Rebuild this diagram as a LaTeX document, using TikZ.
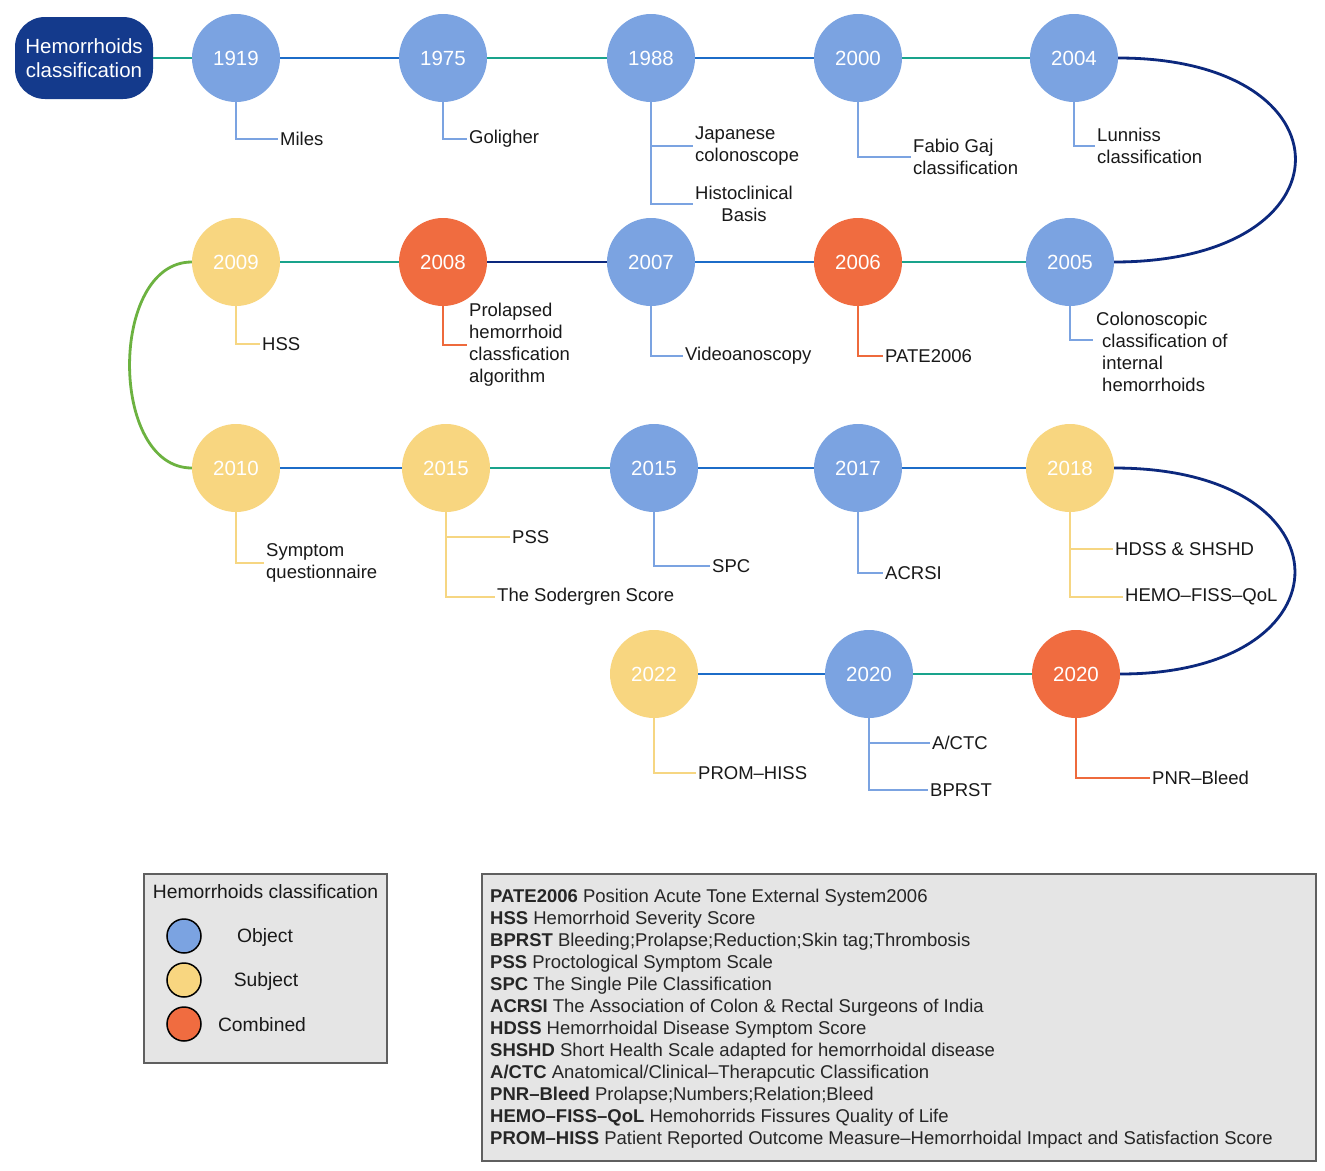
\documentclass[tikz,border=0pt]{standalone}
\usepackage{fontspec}
\setmainfont{Liberation Sans}
\definecolor{cblue}{RGB}{123,163,225}
\definecolor{cyellow}{RGB}{248,214,128}
\definecolor{corange}{RGB}{240,108,64}
\definecolor{cnavy}{RGB}{20,58,140}
\definecolor{lteal}{RGB}{25,163,140}
\definecolor{lblue}{RGB}{28,108,200}
\definecolor{lnavy}{RGB}{12,40,125}
\definecolor{lgreen}{RGB}{108,178,64}
\definecolor{lyellow}{RGB}{246,214,130}
\definecolor{lorange}{RGB}{238,106,60}
\definecolor{boxgray}{RGB}{229,229,229}
\definecolor{boxedge}{RGB}{95,95,95}
\begin{document}
\begin{tikzpicture}[x=1pt,y=-1pt,
  yr/.style={circle, minimum size=88pt, inner sep=0pt, text=white, font=\fontsize{20.5}{24}\selectfont},
  obj/.style={yr, fill=cblue},
  subj/.style={yr, fill=cyellow},
  comb/.style={yr, fill=corange},
  startbox/.style={rectangle, rounded corners=30pt, fill=cnavy, text=white, minimum width=138pt, minimum height=82pt, inner sep=0pt, align=center, font=\fontsize{20.5}{24}\selectfont},
  lab/.style={anchor=west, inner sep=2pt, yshift=-1pt, font=\fontsize{18.5}{22}\selectfont, text=black!90, align=left},
  conn/.style={line width=2.8pt},
  lead/.style={line width=1.6pt},
  infobox/.style={rectangle, fill=boxgray, draw=boxedge, line width=1.2pt, inner sep=0pt},
  legtxt/.style={inner sep=0pt, font=\fontsize{19.3}{22}\selectfont, text=black!90},
  legdot/.style={circle, minimum size=34pt, inner sep=0pt, draw=black, line width=1.5pt},
  abtxt/.style={anchor=west, inner sep=0pt, yshift=-1pt, font=\fontsize{18.5}{22}\selectfont, text=black!85}
]
\useasboundingbox[fill=white] (0,0) rectangle (1325,1170);

% ---- main nodes
\node[startbox] (start) at (84,58) {Hemorrhoids\\classification};
\node[obj] (a1) at (236,58) {1919};
\node[obj] (a2) at (443,58) {1975};
\node[obj] (a3) at (651,58) {1988};
\node[obj] (a4) at (858,58) {2000};
\node[obj] (a5) at (1074,58) {2004};
\node[subj] (b1) at (236,262) {2009};
\node[comb] (b2) at (443,262) {2008};
\node[obj] (b3) at (651,262) {2007};
\node[comb] (b4) at (858,262) {2006};
\node[obj] (b5) at (1070,262) {2005};
\node[subj] (c1) at (236,468) {2010};
\node[subj] (c2) at (446,468) {2015};
\node[obj] (c3) at (654,468) {2015};
\node[obj] (c4) at (858,468) {2017};
\node[subj] (c5) at (1070,468) {2018};
\node[subj] (d1) at (654,674) {2022};
\node[obj] (d2) at (869,674) {2020};
\node[comb] (d3) at (1076,674) {2020};

% ---- connectors
\draw[conn, lteal] (start) -- (a1);
\draw[conn, lblue] (a1) -- (a2);
\draw[conn, lteal] (a2) -- (a3);
\draw[conn, lblue] (a3) -- (a4);
\draw[conn, lteal] (a4) -- (a5);
\draw[conn, lnavy] (a5.east) .. controls +(237,0) and +(241,0) .. (b5.east);
\draw[conn, lteal] (b5) -- (b4);
\draw[conn, lblue] (b4) -- (b3);
\draw[conn, lnavy] (b3) -- (b2);
\draw[conn, lteal] (b2) -- (b1);
\draw[conn, lgreen] (b1.west) .. controls +(-83,0) and +(-83,0) .. (c1.west);
\draw[conn, lblue] (c1) -- (c2);
\draw[conn, lteal] (c2) -- (c3);
\draw[conn, lblue] (c3) -- (c4);
\draw[conn, lblue] (c4) -- (c5);
\draw[conn, lnavy] (c5.east) .. controls +(240,0) and +(234,0) .. (d3.east);
\draw[conn, lteal] (d3) -- (d2);
\draw[conn, lblue] (d2) -- (d1);

% ---- labels
\node[lab] (lMiles) at (278,138) {Miles};
\node[lab] (lGol) at (467,138) {Goligher};
\node[lab] (lJap) at (693,145) {Japanese\\colonoscope};
\node[lab, align=center] (lHis) at (693,203) {Histoclinical\\Basis};
\node[lab] (lFab) at (911,156) {Fabio Gaj\\classification};
\node[lab] (lLun) at (1095,145) {Lunniss\\classification};
\node[lab] (lHSS) at (260,343) {HSS};
\node[lab] (lPro) at (467,344) {Prolapsed\\hemorrhoid\\classfication\\algorithm};
\node[lab] (lVid) at (683,355) {Videoanoscopy};
\node[lab] (lPate) at (883,355) {PATE2006};
\node[lab] (lCol) at (1094,351) {Colonoscopic\\\hspace*{6pt}classification of\\\hspace*{6pt}internal\\\hspace*{6pt}hemorrhoids};
\coordinate (cCol) at (1093,340);
\node[lab] (lSym) at (264,562) {Symptom\\questionnaire};
\node[lab] (lPSS) at (510,536) {PSS};
\node[lab] (lSod) at (495,596) {The Sodergren Score};
\node[lab] (lSPC) at (710,565) {SPC};
\node[lab] (lACR) at (883,572) {ACRSI};
\node[lab] (lHD) at (1113,548) {HDSS \& SHSHD};
\node[lab] (lHemo) at (1123,596) {HEMO–FISS–QoL};
\node[lab] (lProm) at (696,772) {PROM–HISS};
\node[lab] (lACTC) at (930,742) {A/CTC};
\node[lab] (lBPR) at (928,789) {BPRST};
\node[lab] (lPNR) at (1150,777) {PNR–Bleed};

% ---- leaders
\draw[lead, cblue] (a1.south) |- (lMiles.west);
\draw[lead, cblue] (a2.south) |- (lGol.west);
\draw[lead, cblue] (a3.south) |- (lHis.west);
\draw[lead, cblue] (a3.south |- lJap.west) -- (lJap.west);
\draw[lead, cblue] (a4.south) |- (lFab.west);
\draw[lead, cblue] (a5.south) |- (lLun.west);
\draw[lead, lyellow] (b1.south) |- (lHSS.west);
\draw[lead, lorange] (b2.south) |- (lPro.west);
\draw[lead, cblue] (b3.south) |- (lVid.west);
\draw[lead, lorange] (b4.south) |- (lPate.west);
\draw[lead, cblue] (b5.south) |- (cCol);
\draw[lead, lyellow] (c1.south) |- (lSym.west);
\draw[lead, lyellow] (c2.south) |- (lSod.west);
\draw[lead, lyellow] (c2.south |- lPSS.west) -- (lPSS.west);
\draw[lead, cblue] (c3.south) |- (lSPC.west);
\draw[lead, cblue] (c4.south) |- (lACR.west);
\draw[lead, lyellow] (c5.south) |- (lHemo.west);
\draw[lead, lyellow] (c5.south |- lHD.west) -- (lHD.west);
\draw[lead, lyellow] (d1.south) |- (lProm.west);
\draw[lead, cblue] (d2.south) |- (lBPR.west);
\draw[lead, cblue] (d2.south |- lACTC.west) -- (lACTC.west);
\draw[lead, lorange] (d3.south) |- (lPNR.west);

% ---- legend
\node[infobox, minimum width=243pt, minimum height=189pt] (legend) at (265.5,968.5) {};
\node[legtxt] (legtitle) at (265.5,892) {Hemorrhoids classification};
\node[legdot, fill=cblue] (dobj) at (184,936) {};
\node[legdot, fill=cyellow] (dsubj) at (184,980) {};
\node[legdot, fill=corange] (dcomb) at (184,1024) {};
\node[legtxt] (tobj) at (265,937) {Object};
\node[legtxt] (tsubj) at (266,981) {Subject};
\node[legtxt] (tcomb) at (262,1025) {Combined};

% ---- abbreviations
\node[infobox, minimum width=834pt, minimum height=287pt] (abbr) at (899,1017.5) {};
\node[abtxt] (ab1) at (490,897) {\textbf{PATE2006} Position Acute Tone External System2006};
\node[abtxt] (ab2) at (490,919) {\textbf{HSS} Hemorrhoid Severity Score};
\node[abtxt] (ab3) at (490,941) {\textbf{BPRST} Bleeding;Prolapse;Reduction;Skin tag;Thrombosis};
\node[abtxt] (ab4) at (490,963) {\textbf{PSS} Proctological Symptom Scale};
\node[abtxt] (ab5) at (490,985) {\textbf{SPC} The Single Pile Classification};
\node[abtxt] (ab6) at (490,1007) {\textbf{ACRSI} The Association of Colon \& Rectal Surgeons of India};
\node[abtxt] (ab7) at (490,1029) {\textbf{HDSS} Hemorrhoidal Disease Symptom Score};
\node[abtxt] (ab8) at (490,1051) {\textbf{SHSHD} Short Health Scale adapted for hemorrhoidal disease};
\node[abtxt] (ab9) at (490,1073) {\textbf{A/CTC} Anatomical/Clinical–Therapcutic Classification};
\node[abtxt] (ab10) at (490,1095) {\textbf{PNR–Bleed} Prolapse;Numbers;Relation;Bleed};
\node[abtxt] (ab11) at (490,1117) {\textbf{HEMO–FISS–QoL} Hemohorrids Fissures Quality of Life};
\node[abtxt] (ab12) at (490,1139) {\textbf{PROM–HISS} Patient Reported Outcome Measure–Hemorrhoidal Impact and Satisfaction Score};
\end{tikzpicture}
\end{document}
